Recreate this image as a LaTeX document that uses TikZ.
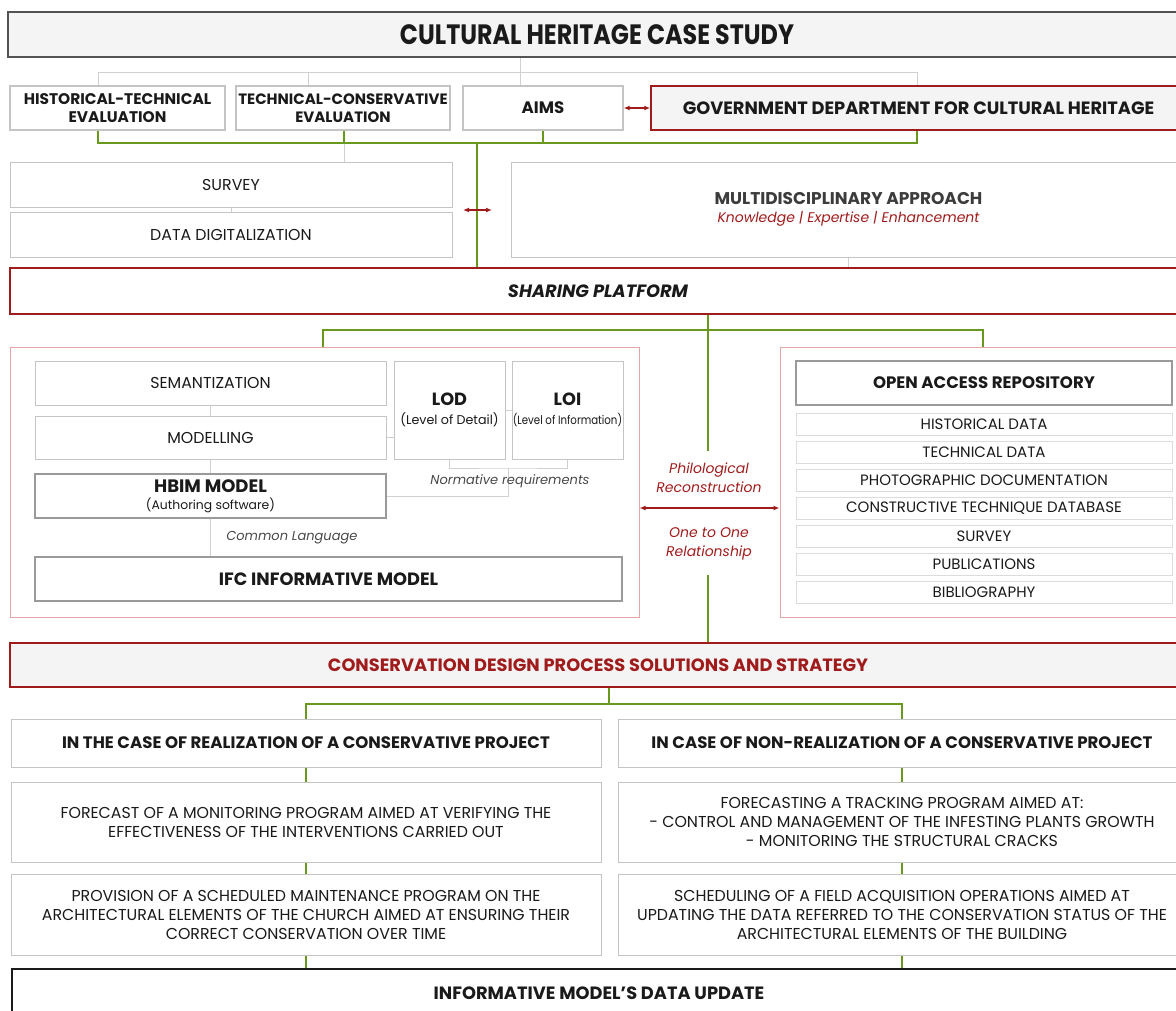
\documentclass[tikz,border=0pt]{standalone}
\usepackage{fontspec}
\setmainfont{Poppins}
\newfontfamily\narrowfont{Poppins}[FakeStretch=0.85]
\usetikzlibrary{calc, arrows.meta, positioning}
\definecolor{hgreen}{HTML}{68991E}
\definecolor{hred}{HTML}{A01C1C}
\definecolor{pinkline}{HTML}{E3A5A5}
\definecolor{boxgrey}{HTML}{C4C4C4}
\definecolor{midgrey}{HTML}{9A9A9A}
\definecolor{lightgrey}{HTML}{DCDCDC}
\definecolor{linegrey}{HTML}{D0D0D0}
\definecolor{fillgrey}{HTML}{F4F4F4}
\definecolor{ink}{HTML}{1A1A1A}
\tikzset{
    box/.style={draw=boxgrey, fill=white, line width=1pt, inner sep=0pt, align=center,
        text=ink, font=\fontsize{15.8}{19}\selectfont},
    darkbox/.style={box, draw=midgrey, line width=1.3pt},
    itembox/.style={box, draw=lightgrey, font=\fontsize{15}{17}\selectfont},
    redbox/.style={box, draw=hred, line width=1.5pt, fill=fillgrey},
    frame/.style={draw=pinkline, line width=1pt, fill=none},
    head/.style={font=\fontsize{16.6}{19}\selectfont\bfseries},
    bighead/.style={font=\fontsize{17.8}{20}\selectfont\bfseries},
    smallhead/.style={font=\fontsize{15.4}{18}\selectfont\bfseries},
    gline/.style={draw=hgreen, line width=2pt},
    lline/.style={draw=linegrey, line width=1pt},
    rarrow/.style={draw=hred, line width=1.2pt, {Latex[length=6pt,width=5pt]}-{Latex[length=6pt,width=5pt]}},
    note/.style={font=\fontsize{13}{19}\selectfont\itshape, text=ink!80, align=center}
}
\newcommand{\drawB}[6][box]{
    \node[#1, minimum width=#4pt, minimum height=#5pt] (#2) at (#3) {#6};
}

\begin{document}
\begin{tikzpicture}[x=1pt, y=-1pt]
        \useasboundingbox (0,0) rectangle (1176,1010);
        \clip (0,0) rectangle (1176,1010);
        % Head
        \drawB[box, fill=fillgrey, draw=ink!75, line width=1.2pt, font=\narrowfont\fontsize{28}{30}\selectfont\bfseries]{title}{597,34.5}{1178}{45}{CULTURAL HERITAGE CASE STUDY}
        \drawB[darkbox, draw=boxgrey, smallhead]{ht}{117.5,108}{215}{44}{HISTORICAL-TECHNICAL\\EVALUATION}
        \drawB[darkbox, draw=boxgrey, smallhead, font=\fontsize{15}{18}\selectfont\bfseries]{tc}{343,108}{214}{44}{TECHNICAL-CONSERVATIVE\\EVALUATION}
        \drawB[darkbox, draw=boxgrey, head]{aims}{543,108}{160}{44}{AIMS}
        \drawB[redbox, bighead]{gd}{918.5,108}{535}{44}{GOVERNMENT DEPARTMENT FOR CULTURAL HERITAGE}
        \drawB{survey}{231,184.5}{442}{45}{SURVEY}
        \drawB{dd}{231,234.5}{442}{45}{DATA DIGITALIZATION}
        \drawB{md}{848.5,209.5}{675}{95}{{\fontsize{17}{19}\selectfont\bfseries\color{ink!85}MULTIDISCIPLINARY APPROACH}\\[-1pt]{\fontsize{14}{17}\selectfont\itshape\color{hred}Knowledge | Expertise | Enhancement}}
        \drawB[redbox, fill=white, line width=2pt, font=\fontsize{17.8}{20}\selectfont\bfseries\itshape]{sp}{598,291}{1176}{46}{SHARING PLATFORM}
        % Model frame
        \drawB[frame]{lc}{324.5,482}{629}{270}{}
        \drawB{sem}{210.5,383}{351}{44}{SEMANTIZATION}
        \drawB{mod}{210.5,437.5}{351}{43}{MODELLING}
        \drawB[darkbox]{hbim}{210.5,496}{351}{44}{{\fontsize{18}{19}\selectfont\bfseries HBIM MODEL}\\[-2pt]{\fontsize{12.4}{15}\selectfont(Authoring software)}}
        \drawB[darkbox, bighead]{ifc}{328.5,579}{587}{44}{IFC INFORMATIVE MODEL}
        \drawB{lod}{449.5,410}{111}{98}{{\fontsize{17.7}{19}\selectfont\bfseries LOD}\\{\fontsize{12.7}{15}\selectfont(Level of Detail)}}
        \drawB{loi}{567.5,410}{111}{98}{{\fontsize{17.7}{19}\selectfont\bfseries LOI}\\{\narrowfont\fontsize{12}{15}\selectfont(Level of Information)}}
        % Repository frame
        \drawB[frame]{rc}{983,482}{406}{270}{}
        \drawB[darkbox, head]{oa}{984,383}{376}{44}{OPEN ACCESS REPOSITORY}
        \foreach \n/\y/\t in {1/424/HISTORICAL DATA, 2/452/TECHNICAL DATA, 3/480/PHOTOGRAPHIC DOCUMENTATION,
            4/508/CONSTRUCTIVE TECHNIQUE DATABASE, 5/536/SURVEY, 6/564/PUBLICATIONS, 7/592/BIBLIOGRAPHY}{
            \drawB[itembox]{it\n}{984,\y}{376}{22}{\t}
        }
        % Strategy
        \drawB[redbox, bighead, text=hred]{cd}{598,665}{1176}{44}{CONSERVATION DESIGN PROCESS SOLUTIONS AND STRATEGY}
        \drawB[box, head]{l1}{306,743}{590}{48}{IN THE CASE OF REALIZATION OF A CONSERVATIVE PROJECT}
        \drawB[box, head]{r1}{902,743}{568}{48}{IN CASE OF NON-REALIZATION OF A CONSERVATIVE PROJECT}
        \drawB{l2}{306,822}{590}{80}{FORECAST OF A MONITORING PROGRAM AIMED AT VERIFYING THE\\EFFECTIVENESS OF THE INTERVENTIONS CARRIED OUT}
        \drawB{r2}{902,822}{568}{80}{FORECASTING A TRACKING PROGRAM AIMED AT:\\- CONTROL AND MANAGEMENT OF THE INFESTING PLANTS GROWTH\\- MONITORING THE STRUCTURAL CRACKS}
        \drawB{l3}{306,914.5}{590}{81}{PROVISION OF A SCHEDULED MAINTENANCE PROGRAM ON THE\\ARCHITECTURAL ELEMENTS OF THE CHURCH AIMED AT ENSURING THEIR\\CORRECT CONSERVATION OVER TIME}
        \drawB{r3}{902,914.5}{568}{81}{SCHEDULING OF A FIELD ACQUISITION OPERATIONS AIMED AT\\UPDATING THE DATA REFERRED TO THE CONSERVATION STATUS OF THE\\ARCHITECTURAL ELEMENTS OF THE BUILDING}
        \drawB[box, draw=ink, line width=1.5pt, bighead]{upd}{599,993}{1174}{48}{INFORMATIVE MODEL'S DATA UPDATE}
        % Grey links
        \coordinate (t0) at (520,72);
        \coordinate (t1) at (98,72);
        \coordinate (t2) at (308,72);
        \coordinate (t4) at (917,72);
        \draw[lline] (title.south -| t0) -- (t0);
        \draw[lline] (ht.north -| t1) -- (t1) -- (t4) -- (gd.north -| t4);
        \draw[lline] (tc.north -| t2) -- (t2);
        \draw[lline] (aims.north -| t0) -- (t0);
        \coordinate (g2) at (344,143);
        \draw[lline] (g2) -- (survey.north -| g2);
        \draw[lline] (survey.south) -- (dd.north);
        \draw[lline] (md.south) -- (sp.north -| md.south);
        \draw[lline] (sem.south) -- (mod.north);
        \draw[lline] (mod.south) -- (hbim.north);
        \draw[lline] (hbim.south) -- (hbim.south |- ifc.north)
            node[midway, note, anchor=west, xshift=12pt] {Common Language};
        \draw[lline] (mod.east) -- (lod.west |- mod.east);
        \draw[lline] (lod.east) -- (loi.west);
        \coordinate (n0) at (508,468);
        \draw[lline] (lod.south) |- (n0) -| (loi.south);
        \draw[lline] (n0) |- (hbim.east);
        \node[note] (norm) at (510,481) {Normative requirements};
        % Green links
        \coordinate (g0) at (477,143);
        \coordinate (g1) at (98,143);
        \coordinate (g5) at (917,143);
        \draw[gline] (ht.south -| g1) -- (g1) -- (g5) -- (gd.south -| g5);
        \draw[gline] (tc.south -| g2) -- (g2);
        \draw[gline] (aims.south) -- (aims.south |- g0);
        \draw[gline] (g0) -- (sp.north -| g0);
        \coordinate (s0) at (708,330);
        \coordinate (s1) at (323,330);
        \coordinate (s2) at (983,330);
        \coordinate (s3) at (708,451);
        \coordinate (s4) at (708,575);
        \draw[gline] (sp.south -| s0) -- (s3);
        \draw[gline] (lc.north -| s1) -- (s1) -- (s2) -- (rc.north -| s2);
        \draw[gline] (s4) -- (cd.north -| s4);
        \coordinate (c0) at (609,704);
        \draw[gline] (cd.south -| c0) -- (c0);
        \draw[gline] (l1.north) |- (c0) -| (r1.north);
        \draw[gline] (l1.south) -- (l2.north);
        \draw[gline] (l2.south) -- (l3.north);
        \draw[gline] (l3.south) -- (l3.south |- upd.north);
        \draw[gline] (r1.south) -- (r2.north);
        \draw[gline] (r2.south) -- (r3.north);
        \draw[gline] (r3.south) -- (r3.south |- upd.north);
        % Red arrows
        \coordinate (a1) at (463,210);
        \coordinate (a2) at (492,210);
        \draw[rarrow] (aims.east) -- (gd.west);
        \draw[rarrow] (a1) -- (a2);
        \coordinate (m0) at (708,508);
        \draw[rarrow] (lc.east |- m0) -- (rc.west |- m0);
        \node[note, font=\fontsize{14}{19}\selectfont\itshape, text=hred] (phil) at (709,478) {Philological\\Reconstruction};
        \node[note, font=\fontsize{14}{19}\selectfont\itshape, text=hred] (one) at (709,544) {One to One\\Relationship};
    \end{tikzpicture}
\end{document}
